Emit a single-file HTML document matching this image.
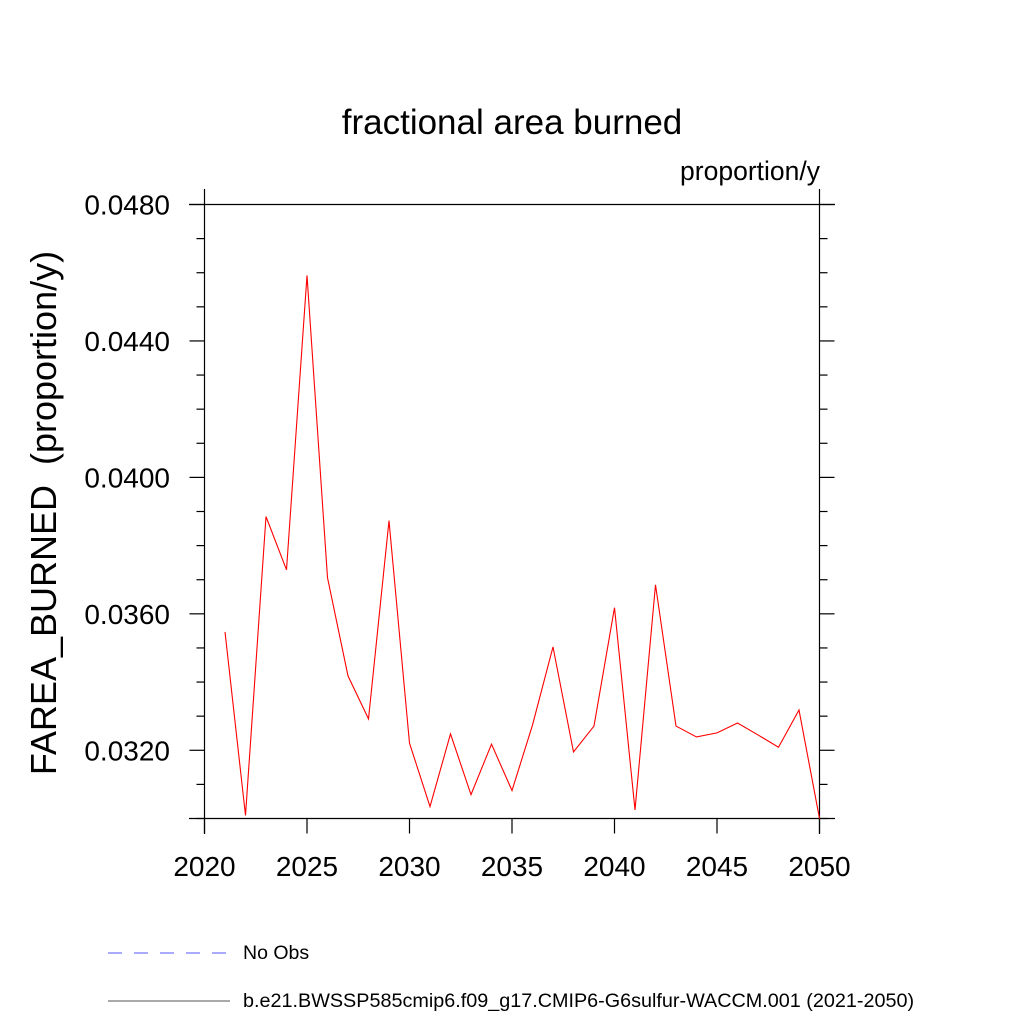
<!DOCTYPE html>
<html><head><meta charset="utf-8"><style>
body{margin:0;background:#fff;}
svg{display:block;font-family:"Liberation Sans",sans-serif;}
</style></head><body>
<svg width="1024" height="1024" viewBox="0 0 1024 1024">
<text x="512" y="134" text-anchor="middle" font-size="35">fractional area burned</text>
<text x="820" y="180" text-anchor="end" font-size="26.5">proportion/y</text>
<text transform="translate(56,513) rotate(-90)" text-anchor="middle" font-size="36" xml:space="preserve">FAREA_BURNED  (proportion/y)</text>
<g id="axes" stroke="#000" stroke-width="1.2" fill="none"></g>
<g id="ticks" stroke="#000" stroke-width="1.2"></g>
<g id="labels" font-size="28"></g>
<polyline id="series" fill="none" stroke="#ff0000" stroke-width="1.1"/>
<line x1="108" y1="953" x2="230" y2="953" stroke="#5555ff" stroke-width="1" stroke-dasharray="14,12"/>
<text x="243" y="959" font-size="19.5">No Obs</text>
<line x1="108" y1="1001" x2="230" y2="1001" stroke="#555" stroke-width="1"/>
<text x="243" y="1007" font-size="19.8">b.e21.BWSSP585cmip6.f09_g17.CMIP6-G6sulfur-WACCM.001 (2021-2050)</text>
</svg>
<script>
const years=[2021,2022,2023,2024,2025,2026,2027,2028,2029,2030,2031,2032,2033,2034,2035,2036,2037,2038,2039,2040,2041,2042,2043,2044,2045,2046,2047,2048,2049,2050];
const values=[0.03547,0.03009,0.03885,0.03729,0.04592,0.03706,0.03418,0.03292,0.03873,0.03221,0.03035,0.03248,0.03070,0.03218,0.03082,0.03274,0.03503,0.03195,0.03271,0.03618,0.03025,0.03685,0.03271,0.03239,0.03251,0.03280,0.03245,0.03209,0.03318,0.03000];
const xTicks=[2020,2025,2030,2035,2040,2045,2050];
const yTicks=[0.032,0.036,0.040,0.044,0.048];
const yTickLabels=["0.0320","0.0360","0.0400","0.0440","0.0480"];
const X0=204.5,X1=819.5,Y0=818.5,Y1=204.5;
const xMin=2020,xMax=2050,yMin=0.030,yMax=0.048;
function sx(v){return X0+(v-xMin)/(xMax-xMin)*(X1-X0);}
function sy(v){return Y0-(v-yMin)/(yMax-yMin)*(Y0-Y1);}
const NS="http://www.w3.org/2000/svg";
function ln(g,x1,y1,x2,y2,name){const l=document.createElementNS(NS,'line');l.setAttribute('x1',x1);l.setAttribute('y1',y1);l.setAttribute('x2',x2);l.setAttribute('y2',y2);


g.appendChild(l);return l;}
const ax=document.getElementById('axes'),tk=document.getElementById('ticks'),lb=document.getElementById('labels');
ln(ax,X0,189,X0,834,'left-axis');ln(ax,X1,189,X1,834,'right-axis');
ln(ax,189,Y1,835,Y1,'top-axis');ln(ax,189,Y0,835,Y0,'bottom-axis');
xTicks.forEach(t=>{const x=sx(t);ln(tk,x,Y0,x,Y0+15,'x-tick');
const s=document.createElementNS(NS,'text');s.setAttribute('x',x);s.setAttribute('y',876);s.setAttribute('text-anchor','middle');s.textContent=t;


lb.appendChild(s);});
for(let i=0;i<=18;i++){const v=yMin+i*0.001;const y=sy(v);const major=yTicks.some(t=>Math.abs(t-v)<1e-6);const len=major?15:8;
ln(tk,X0-len,y,X0,y,'y-tick');ln(tk,X1,y,X1+len,y,'y-tick-right');}
yTicks.forEach((t,i)=>{const s=document.createElementNS(NS,'text');s.setAttribute('x',170);s.setAttribute('y',sy(t)+10);s.setAttribute('text-anchor','end');s.textContent=yTickLabels[i];


lb.appendChild(s);});
document.getElementById('series').setAttribute('points',years.map((y,i)=>sx(y)+','+sy(values[i])).join(' '));
</script>
</body></html>
